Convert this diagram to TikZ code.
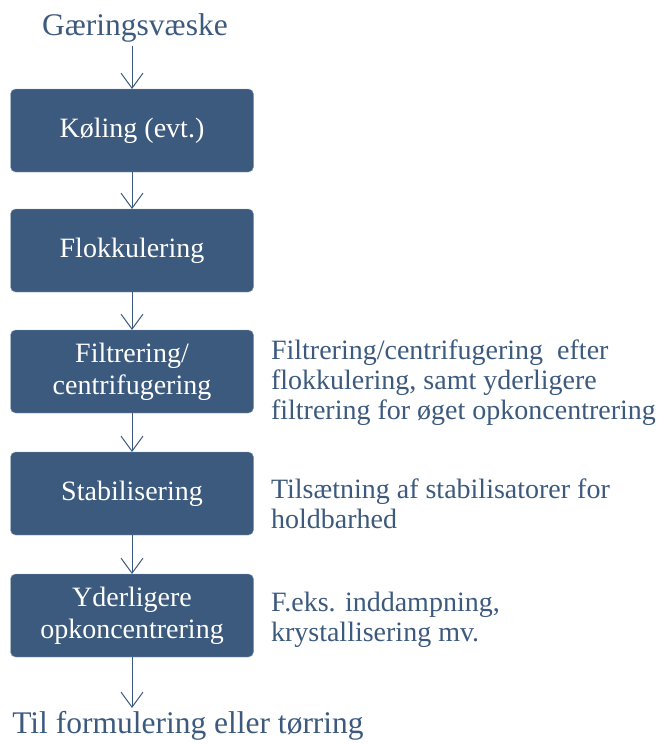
\documentclass[tikz,border=0pt]{standalone}
\usepackage{fontspec}
\setmainfont{Liberation Serif}
\usetikzlibrary{positioning,arrows.meta}

\definecolor{boxblue}{HTML}{3C5A7E}
\definecolor{edgeblue}{HTML}{8FA3BD}

\tikzset{
	stepbox/.style={minimum height=83pt,minimum width=243pt,draw=edgeblue,fill=boxblue,rounded corners=5pt,text=white,align=center,outer sep=0pt,font=\fontsize{28}{32}\selectfont},
	note/.style={anchor=west,align=left,text=boxblue,font=\fontsize{28}{30}\selectfont},
	endtext/.style={text=boxblue,font=\fontsize{31.5}{34}\selectfont},
	flow/.style={draw=boxblue,line width=1pt,-{Straight Barb[length=15pt,width=22pt,line width=1pt]}}
}

\begin{document}
\begin{tikzpicture}[x=1pt,y=1pt]
	\useasboundingbox (0,0) rectangle (667,-744);
	
	\node[stepbox] (kol) at (132,-130.5) {Køling (evt.)};
	\node[stepbox,below=37pt of kol] (flok) {Flokkulering};
	\node[stepbox,below=38pt of flok] (filt) {Filtrering/\\centrifugering};
	\node[stepbox,below=39pt of filt] (stab) {Stabilisering};
	\node[stepbox,below=39pt of stab] (opk) {Yderligere\\opkoncentrering};
	
	\node[endtext] (src) at (135,-28) {Gæringsvæske};
	\node[endtext] (dst) at (188,-726) {Til formulering eller tørring};
	
	\node[note,right=14pt of filt,yshift=-11pt] (nfilt) {Filtrering/centrifugering\ \ efter\\flokkulering, samt yderligere\\filtrering for øget opkoncentrering};
	\node[note,right=14pt of stab,yshift=-10pt] (nstab) {Tilsætning af stabilisatorer for\\holdbarhed};
	\node[note,right=14pt of opk,yshift=-4pt] (nopk) {F.eks. inddampning,\\krystallisering mv.};
	
	\draw[flow] (src.south -| kol.north) -- (kol.north);
	\draw[flow] (kol) -- (flok);
	\draw[flow] (flok) -- (filt);
	\draw[flow] (filt) -- (stab);
	\draw[flow] (stab) -- (opk);
	\draw[flow] (opk.south) -- (dst.north -| opk.south);
\end{tikzpicture}
\end{document}
